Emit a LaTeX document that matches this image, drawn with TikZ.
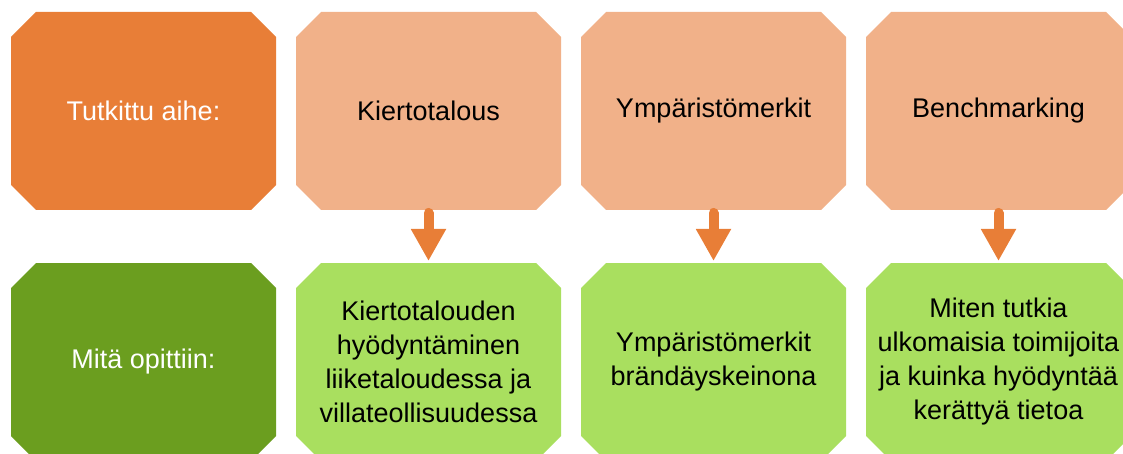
\documentclass[tikz,border=0pt]{standalone}
\usepackage{fontspec}
\setmainfont{Liberation Sans}
\usetikzlibrary{arrows.meta}
\definecolor{darkor}{RGB}{232,126,55}
\definecolor{lightor}{RGB}{241,177,137}
\definecolor{darkgr}{RGB}{107,158,31}
\definecolor{lightgr}{RGB}{169,223,95}
\newcommand{\cl}[1]{\makebox[0pt][c]{#1}}
\tikzset{
  box/.style={rectangle, minimum width=265pt, minimum height=198pt, inner sep=0pt, outer sep=0pt,
    draw=none, align=center, font=\fontsize{27}{34}\selectfont,
    path picture={\fill[#1]
      ([xshift=25pt]path picture bounding box.north west) --
      ([xshift=-25pt]path picture bounding box.north east) --
      ([yshift=-25pt]path picture bounding box.north east) --
      ([yshift=25pt]path picture bounding box.south east) --
      ([xshift=-25pt]path picture bounding box.south east) --
      ([xshift=25pt]path picture bounding box.south west) --
      ([yshift=25pt]path picture bounding box.south west) --
      ([yshift=-25pt]path picture bounding box.north west) -- cycle;}},
  hdr/.style={box=darkor, text=white},
  topic/.style={box=lightor, text=black},
  hdrg/.style={box=darkgr, text=white},
  learn/.style={box=lightgr, text=black},
  arr/.style={draw=darkor, line width=10pt, line cap=round,
    -{Triangle[length=32pt 0 0, width=33pt 0 0, fill=darkor]}, shorten <=3pt, shorten >=2pt}
}
\begin{document}
\begin{tikzpicture}[x=1pt,y=-1pt]
\useasboundingbox (0,0) rectangle (1123,454);
\clip (0,0) rectangle (1123,454);
\node[hdr]   (h1) at (143.5,111) {\cl{Tutkittu aihe:}};
\node[topic] (t1) at (428.5,111) {\cl{Kiertotalous}};
\node[topic] (t2) at (713.5,111) {\cl{Ympäristömerkit}};
\node[topic] (t3) at (998.5,111) {\cl{Benchmarking}};
\node[hdrg]  (h2) at (143.5,362) {\cl{Mitä opittiin:}};
\node[learn] (l1) at (428.5,362) {\cl{Kiertotalouden}\\\cl{hyödyntäminen}\\\cl{liiketaloudessa ja}\\\cl{villateollisuudessa}};
\node[learn] (l2) at (713.5,362) {\cl{Ympäristömerkit}\\\cl{brändäyskeinona}};
\node[learn] (l3) at (998.5,362) {\cl{Miten tutkia}\\\cl{ulkomaisia toimijoita}\\\cl{ja kuinka hyödyntää}\\\cl{kerättyä tietoa}};
\draw[arr] (t1.south) -- (l1.north);
\draw[arr] (t2.south) -- (l2.north);
\draw[arr] (t3.south) -- (l3.north);
\end{tikzpicture}
\end{document}
